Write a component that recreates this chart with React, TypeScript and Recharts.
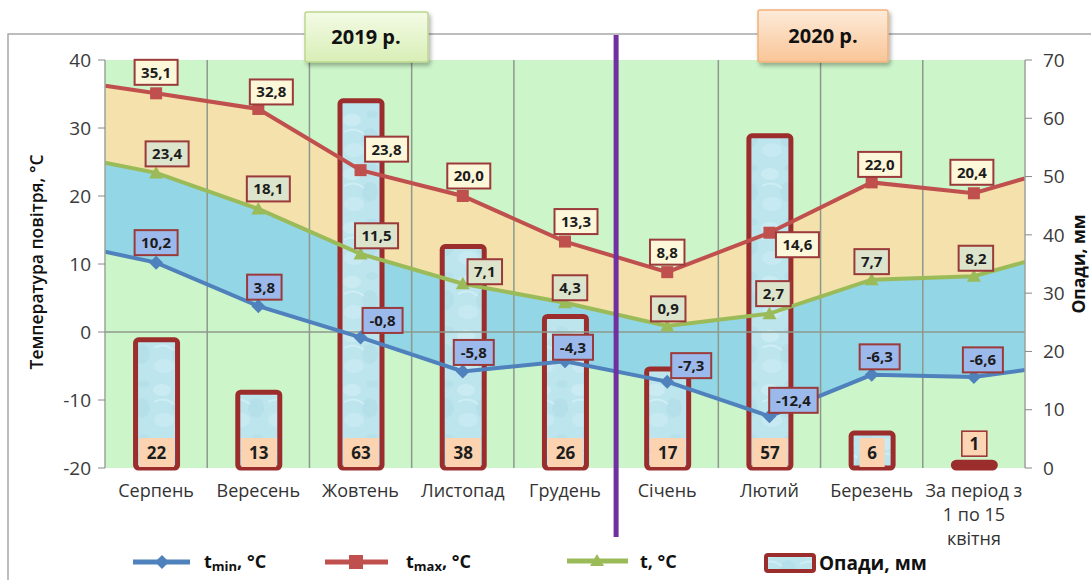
import React from 'react';
import {
  ComposedChart, Line, Area, Bar, XAxis, YAxis, ReferenceLine, LabelList, CartesianGrid,
} from 'recharts';

// ---------- DATA ----------
const categories = [
  'Серпень', 'Вересень', 'Жовтень', 'Листопад', 'Грудень',
  'Січень', 'Лютий', 'Березень', 'За період з\n1 по 15\nквітня',
];
const tmin = [10.2, 3.8, -0.8, -5.8, -4.3, -7.3, -12.4, -6.3, -6.6];
const tmax = [35.1, 32.8, 23.8, 20.0, 13.3, 8.8, 14.6, 22.0, 20.4];
const tAvg = [23.4, 18.1, 11.5, 7.1, 4.3, 0.9, 2.7, 7.7, 8.2];
const precip = [22, 13, 63, 38, 26, 17, 57, 6, 1];
// values where the lines leave the plot edges (left, right)
const edgeTmin = [11.8, -5.6];
const edgeTmax = [36.2, 22.6];
const edgeTavg = [24.9, 10.3];
const leftTicks = [-20, -10, 0, 10, 20, 30, 40];
const rightTicks = [0, 10, 20, 30, 40, 50, 60, 70];
const yearLabels = ['2019 р.', '2020 р.'];
const yearSplit = 4.5; // boundary between Грудень and Січень

type Row = { x: number; tmin: number; tmax: number; t: number; rain?: number; edge?: boolean; ci?: number };
const data: Row[] = [
  { x: -0.5, tmin: edgeTmin[0], tmax: edgeTmax[0], t: edgeTavg[0], edge: true },
  ...categories.map((_, i) => ({ x: i, tmin: tmin[i], tmax: tmax[i], t: tAvg[i], rain: precip[i], ci: i })),
  { x: categories.length - 0.5, tmin: edgeTmin[1], tmax: edgeTmax[1], t: edgeTavg[1], edge: true },
];
const categoryTicks = categories.map((_, i) => i);
const boundaries = categories.slice(1).map((_, i) => i + 0.5);

// ---------- STYLE ----------
const FONT = '"Open Sans", "DejaVu Sans", sans-serif';
const C_MIN = '#4f81bd';
const C_MAX = '#c0504d';
const C_AVG = '#9bbb59';
const C_BORDER = '#9b2d2d';
const C_TAN = '#f4e1ab';
const C_BLUE = '#93d6e6';
const C_BG = '#ccf6c9';

// label box offsets relative to the marker (dx, dy)
const tmaxOff = [[0, -21], [13, -17], [26, -21], [6, -20], [11, -20], [0, -20], [28, 12], [8, -18], [-2, -21]];
const tavgOff = [[11, -19], [10, -20], [16, -18], [22, -12], [5, -15], [1, -17], [4, -20], [0, -18], [2, -18]];
const tminOff = [[0, -20], [6, -19], [22, -17], [11, -19], [8, -14], [24, -16], [24, -16], [8, -18], [9, -17]];

const fmt = (v: number) => v.toFixed(1).replace('.', ',');
const boxWidth = (s: string) => {
  let w = 13;
  for (const ch of s) w += ch === ',' ? 4.5 : ch === '-' ? 5.5 : 8.5;
  return w;
};

const makeLineLabel = (offsets: number[][], fill: string) => (props: any) => {
  const { x, y, index } = props;
  const row = data[index];
  if (!row || row.edge || row.ci === undefined) return null;
  const val = props.value as number;
  const [dx, dy] = offsets[row.ci];
  const text = fmt(val);
  const w = boxWidth(text);
  const h = 25;
  const cx = x + dx;
  const cy = y + dy;
  return (
    <g>
      <rect x={cx - w / 2} y={cy - h / 2} width={w} height={h} fill={fill} stroke="#9b3a3a" strokeWidth={2} />
      <text x={cx} y={cy} dy="0.36em" textAnchor="middle" fontFamily={FONT} fontWeight={700} fontSize={15} fill="#1c1c1c">
        {text}
      </text>
    </g>
  );
};

const makeDot = (kind: 'diamond' | 'square' | 'triangle', color: string) => (p: any) => {
  const { cx, cy, payload, index } = p;
  if (!payload || payload.edge) return <g key={`d-${kind}-${index}`} />;
  if (kind === 'diamond') {
    const s = 7;
    return <polygon key={`d-${kind}-${index}`} points={`${cx},${cy - s} ${cx + s},${cy} ${cx},${cy + s} ${cx - s},${cy}`} fill={color} />;
  }
  if (kind === 'square') {
    const s = 6;
    return <rect key={`d-${kind}-${index}`} x={cx - s} y={cy - s} width={2 * s} height={2 * s} fill={color} />;
  }
  const s = 7;
  return <polygon key={`d-${kind}-${index}`} points={`${cx},${cy - s} ${cx + s},${cy + s * 0.8} ${cx - s},${cy + s * 0.8}`} fill={color} />;
};

const BarShape = (p: any) => {
  const { x, y, width, height } = p;
  if (height == null || width == null) return null;
  const tiny = height < 8;
  return (
    <rect x={x} y={y} width={width} height={Math.max(height, 0.5)} rx={3} ry={3}
      fill={tiny ? C_BORDER : 'url(#rainPattern)'} stroke={C_BORDER} strokeWidth={5} />
  );
};

const BarLabel = (p: any) => {
  const { x, y, width, height, value } = p;
  if (value == null) return null;
  const text = String(value);
  const cx = x + width / 2;
  if (height < 20) {
    const w = 25, h = 25;
    return (
      <g>
        <rect x={cx - w / 2} y={y - 6 - h} width={w} height={h} fill="#fcd5b5" stroke={C_BORDER} strokeWidth={1.5} />
        <text x={cx} y={y - 6 - h / 2} dy="0.36em" textAnchor="middle" fontFamily={FONT} fontWeight={700} fontSize={17} fill="#1c1c1c">{text}</text>
      </g>
    );
  }
  const w = text.length * 10 + 15;
  const h = 29;
  const bottom = y + height - 1;
  return (
    <g>
      <rect x={cx - w / 2} y={bottom - h} width={w} height={h} fill="#fbd3b0" />
      <text x={cx} y={bottom - h / 2} dy="0.36em" textAnchor="middle" fontFamily={FONT} fontWeight={700} fontSize={17} fill="#1c1c1c">{text}</text>
    </g>
  );
};

const CategoryTick = (p: any) => {
  const { x, y, payload } = p;
  const lines = categories[payload.value].split('\n');
  return (
    <text x={x} y={y} textAnchor="middle" fontFamily={FONT} fontSize={18} fill="#333">
      {lines.map((l, i) => (
        <tspan key={i} x={x} dy={i === 0 ? 21 : 24}>{l}</tspan>
      ))}
    </text>
  );
};

const YearLine = (p: any) => {
  const top = Math.min(p.y1, p.y2);
  const bottom = Math.max(p.y1, p.y2);
  return <line x1={p.x1} x2={p.x2} y1={top - 25} y2={bottom + 69} stroke="#7030a0" strokeWidth={5} />;
};

const Overlay = () => (
  <svg width={1091} height={580} style={{ position: 'absolute', left: 0, top: 0, pointerEvents: 'none' }}>
    <defs>
      <linearGradient id="g2019" x1="0" y1="0" x2="0" y2="1">
        <stop offset="0%" stopColor="#f4fbe6" />
        <stop offset="100%" stopColor="#d8eeb6" />
      </linearGradient>
      <linearGradient id="g2020" x1="0" y1="0" x2="0" y2="1">
        <stop offset="0%" stopColor="#fdebd9" />
        <stop offset="100%" stopColor="#f9c597" />
      </linearGradient>
      <filter id="shadow" x="-20%" y="-20%" width="140%" height="150%">
        <feDropShadow dx="2" dy="3" stdDeviation="2" floodColor="#000" floodOpacity="0.3" />
      </filter>
    </defs>
    <polyline points="8,580 8,34 1091,34" fill="none" stroke="#a8a8a8" strokeWidth={1.5} />
    <g filter="url(#shadow)">
      <rect x={305} y={12} width={123} height={50} fill="url(#g2019)" stroke="#bcd78f" strokeWidth={1.5} rx={2} />
      <rect x={758} y={10} width={130} height={52} fill="url(#g2020)" stroke="#f2b27a" strokeWidth={1.5} rx={2} />
    </g>
    <text x={366} y={37} dy="0.36em" textAnchor="middle" fontFamily={FONT} fontWeight={700} fontSize={20} fill="#111">{yearLabels[0]}</text>
    <text x={823} y={36} dy="0.36em" textAnchor="middle" fontFamily={FONT} fontWeight={700} fontSize={20} fill="#111">{yearLabels[1]}</text>

    <text transform="translate(37,262) rotate(-90)" textAnchor="middle" dy="0.36em" fontFamily={FONT} fontSize={17.5} fontWeight={600} fill="#111">
      Температура повітря, °С
    </text>
    <text transform="translate(1079,264) rotate(-90)" textAnchor="middle" dy="0.36em" fontFamily={FONT} fontSize={17.5} fontWeight={700} fill="#111">
      Опади, мм
    </text>

    {/* legend */}
    <g fontFamily={FONT} fontWeight={700} fill="#111">
      <line x1={133} x2={190} y1={562} y2={562} stroke={C_MIN} strokeWidth={5} />
      <polygon points="162,555 169,562 162,569 155,562" fill={C_MIN} />
      <text x={204} y={562} dy="0.36em" fontSize={18}>t<tspan fontSize={13} dy={3}>min</tspan><tspan dy={-3}>, °C</tspan></text>

      <line x1={325} x2={388} y1={562} y2={562} stroke={C_MAX} strokeWidth={5} />
      <rect x={349} y={555} width={14} height={14} fill={C_MAX} />
      <text x={406} y={562} dy="0.36em" fontSize={18}>t<tspan fontSize={13} dy={3}>max</tspan><tspan dy={-3}>, °C</tspan></text>

      <line x1={567} x2={628} y1={561} y2={561} stroke={C_AVG} strokeWidth={5} />
      <polygon points="597,554 604,566 590,566" fill={C_AVG} />
      <text x={640} y={562} dy="0.36em" fontSize={18}>t, °C</text>

      <rect x={766} y={555} width={48} height={16} rx={2} fill="url(#rainPattern)" stroke={C_BORDER} strokeWidth={4} />
      <text x={819} y={563} dy="0.36em" fontSize={19}>Опади, мм</text>
    </g>
  </svg>
);

export default function App() {
  return (
    <div style={{ position: 'absolute', left: 0, top: 0, width: 1091, height: 580, background: '#fff' }}>
      <svg width={0} height={0} style={{ position: 'absolute' }}>
        <defs>
          <pattern id="rainPattern" patternUnits="userSpaceOnUse" width={38} height={54}>
            <rect width={38} height={54} fill="#bde5ee" />
            <ellipse cx={10} cy={12} rx={9} ry={6} fill="#e0f4f8" opacity={0.4} />
            <ellipse cx={28} cy={30} rx={8} ry={10} fill="#a4d6e4" opacity={0.3} />
            <ellipse cx={12} cy={42} rx={10} ry={7} fill="#d6f0f5" opacity={0.4} />
            <ellipse cx={30} cy={6} rx={6} ry={4} fill="#a8d8e6" opacity={0.3} />
            <path d="M2 24 Q12 18 22 26" stroke="#e2f5f9" strokeWidth={2} fill="none" opacity={0.5} />
          </pattern>
        </defs>
      </svg>
      <ComposedChart width={1091} height={580} data={data}
        margin={{ top: 60, right: 6, bottom: 62, left: 45 }}>
        <CartesianGrid horizontal={false} vertical={false} fill={C_BG} yAxisId="left" />
        <XAxis dataKey="x" type="number" domain={[-0.5, categories.length - 0.5]} ticks={categoryTicks}
          interval={0} allowDataOverflow axisLine={false} tickLine={false} height={50} tick={<CategoryTick />} />
        <YAxis yAxisId="left" domain={[-20, 40]} ticks={leftTicks} width={60}
          axisLine={{ stroke: '#9aa59a', strokeWidth: 1.5 }} tickLine={{ stroke: '#888' }} tickSize={7} tickMargin={7}
          tick={{ fontFamily: FONT, fontSize: 19, fill: '#3a3a3a' }} />
        <YAxis yAxisId="right" orientation="right" domain={[0, 70]} ticks={rightTicks} width={60}
          axisLine={{ stroke: '#9aa59a', strokeWidth: 1.5 }} tickLine={{ stroke: '#888' }} tickSize={7} tickMargin={11}
          tick={{ fontFamily: FONT, fontSize: 19, fill: '#3a3a3a' }} />

        <Area yAxisId="left" type="linear" dataKey={(d: Row) => [d.tmin, d.t]} fill={C_BLUE} fillOpacity={1}
          stroke="none" isAnimationActive={false} dot={false} activeDot={false} />
        <Area yAxisId="left" type="linear" dataKey={(d: Row) => [d.t, d.tmax]} fill={C_TAN} fillOpacity={1}
          stroke="none" isAnimationActive={false} dot={false} activeDot={false} />

        {boundaries.map((b) => (
          <ReferenceLine key={b} x={b} yAxisId="left" stroke="#8d998d" strokeWidth={1.5} />
        ))}
        <ReferenceLine y={0} yAxisId="left" stroke="#8d998d" strokeWidth={1.5} />

        <Bar yAxisId="right" dataKey="rain" barSize={42} shape={<BarShape />} isAnimationActive={false}>
          <LabelList dataKey="rain" content={<BarLabel />} />
        </Bar>

        <Line yAxisId="left" type="linear" dataKey="tmin" stroke={C_MIN} strokeWidth={4}
          dot={makeDot('diamond', C_MIN)} activeDot={false} isAnimationActive={false}>
          <LabelList dataKey="tmin" content={makeLineLabel(tminOff, '#9cb9ec')} />
        </Line>
        <Line yAxisId="left" type="linear" dataKey="t" stroke={C_AVG} strokeWidth={4}
          dot={makeDot('triangle', C_AVG)} activeDot={false} isAnimationActive={false}>
          <LabelList dataKey="t" content={makeLineLabel(tavgOff, '#dde4cc')} />
        </Line>
        <Line yAxisId="left" type="linear" dataKey="tmax" stroke={C_MAX} strokeWidth={4}
          dot={makeDot('square', C_MAX)} activeDot={false} isAnimationActive={false}>
          <LabelList dataKey="tmax" content={makeLineLabel(tmaxOff, '#fdf7d9')} />
        </Line>

        <ReferenceLine x={yearSplit} yAxisId="left" ifOverflow="visible" shape={<YearLine />} />
      </ComposedChart>
      <Overlay />
    </div>
  );
}
